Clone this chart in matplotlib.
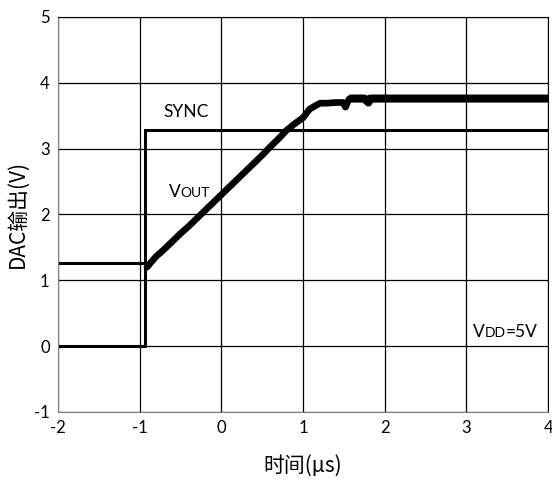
import matplotlib
matplotlib.use("Agg")
import matplotlib.pyplot as plt

plt.rcParams['font.family'] = ['Lato', 'Noto Sans CJK SC', 'DejaVu Sans']
plt.rcParams['axes.unicode_minus'] = False

# SYNC: 0 V, then step up to ~3.28 V near -0.93 us
sync_t = [-2.0, -0.93, -0.93, 4.0]
sync_v = [0.0, 0.0, 3.28, 3.28]

# VOUT before the ramp
vout_pre_t = [-2.0, -0.93]
vout_pre_v = [1.27, 1.27]

# VOUT ramp
ramp_t = [-0.91, -0.87, -0.80, -0.70, -0.60, -0.50, -0.40, -0.30, -0.20, -0.10,
          0.0, 0.10, 0.20, 0.30, 0.40, 0.50, 0.60, 0.70, 0.80, 0.90,
          1.00, 1.08, 1.15, 1.21, 1.30, 1.40, 1.49, 1.52, 1.55, 1.57]
ramp_v = [1.20, 1.26, 1.36, 1.47, 1.59, 1.71, 1.82, 1.94, 2.06, 2.18,
          2.30, 2.42, 2.54, 2.66, 2.78, 2.90, 3.03, 3.15, 3.28, 3.38,
          3.47, 3.60, 3.65, 3.69, 3.69, 3.70, 3.70, 3.63, 3.72, 3.76]

# VOUT settled (noisy band around ~3.76 V)
flat_t = [1.57, 1.75, 1.80, 1.82, 1.85, 2.0, 2.5, 3.0, 3.5, 4.0]
flat_v = [3.76, 3.76, 3.70, 3.76, 3.76, 3.76, 3.76, 3.76, 3.76, 3.76]

fig = plt.figure(figsize=(5.52, 4.83), dpi=100)
ax = fig.add_axes([0.105, 0.147, 0.888, 0.818])

ax.plot(sync_t, sync_v, color='black', lw=2.2, solid_joinstyle='miter')
ax.plot(vout_pre_t, vout_pre_v, color='black', lw=2.2)
ax.plot(ramp_t, ramp_v, color='black', lw=4.8, solid_capstyle='round')
ax.plot(flat_t, flat_v, color='black', lw=5.8, solid_capstyle='butt')

ax.set_xlim(-2, 4)
ax.set_ylim(-1, 5)
ax.set_xticks(range(-2, 5))
ax.set_yticks(range(-1, 6))
ax.grid(True, color='black', lw=0.9)
ax.set_axisbelow(True)
ax.tick_params(length=0, labelsize=12, pad=6)
for s in ['left', 'bottom']:
    ax.spines[s].set_color('#808080')
for s in ['top', 'right']:
    ax.spines[s].set_color('black')

ax.text(-0.715, 3.48, 'SYNC', fontsize=12.5)

ax.text(-0.64, 2.26, 'V', fontsize=12.5)
ax.annotate('OUT', xy=(-0.64, 2.26), xytext=(8.4, 0), textcoords='offset points', fontsize=10)

ax.text(3.08, 0.14, 'V', fontsize=12.5)
ax.annotate('DD', xy=(3.08, 0.14), xytext=(8.4, 0), textcoords='offset points', fontsize=10)
ax.annotate('=5V', xy=(3.08, 0.14), xytext=(23.5, 0), textcoords='offset points', fontsize=12.5)

ax.set_ylabel('DAC输出(V)', fontsize=15, family=['Noto Sans CJK SC'], labelpad=4)
ax.set_xlabel('时间(µs)', fontsize=15, family=['Noto Sans CJK SC'], labelpad=13)

fig.savefig('out.png', dpi=100)
